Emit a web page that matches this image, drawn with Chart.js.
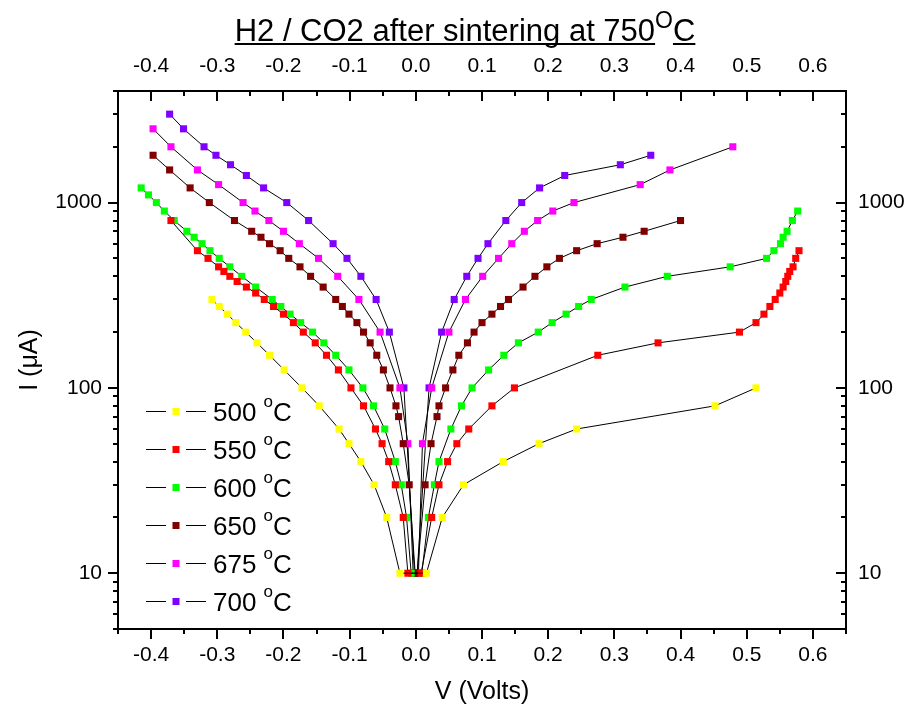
<!DOCTYPE html>
<html>
<head>
<meta charset="utf-8">
<script src="https://cdn.jsdelivr.net/npm/chart.js@4.4.0/dist/chart.umd.min.js"></script>
<style>
    html, body { margin: 0; padding: 0; background: #ffffff; }
    #wrap { width: 907px; height: 709px; }
</style>
</head>
<body>
<div id="wrap"><canvas id="ivChart" width="907" height="709"></canvas></div>
<script>
// ---- data: voltage (V) and current (uA) per sintering temperature ----
const v500 = [-0.308, -0.297, -0.285, -0.272, -0.257, -0.240, -0.221, -0.199, -0.172, -0.146, -0.116, -0.101, -0.083, -0.063, -0.044, -0.024,
    0.016, 0.040, 0.072, 0.132, 0.186, 0.243, 0.452, 0.514];
const i500 = [300, 275, 250, 225, 200, 175, 150, 125, 100, 80, 60, 50, 40, 30, 20, 10,
    10, 20, 30, 40, 50, 60, 80, 100];

const v550 = [-0.370, -0.330, -0.314, -0.298, -0.290, -0.281, -0.270, -0.256, -0.242, -0.229, -0.215, -0.200, -0.185, -0.170, -0.152, -0.135, -0.117, -0.098, -0.079, -0.061, -0.051, -0.041, -0.031, -0.019, -0.012,
    0.008, 0.024, 0.035, 0.048, 0.062, 0.080, 0.115, 0.149, 0.275, 0.366, 0.489, 0.514, 0.526, 0.535, 0.543, 0.550, 0.555, 0.559, 0.562, 0.565, 0.570, 0.574, 0.579];
const i550 = [800, 550, 500, 450, 425, 400, 375, 350, 325, 300, 275, 250, 225, 200, 175, 150, 125, 100, 80, 60, 50, 40, 30, 20, 10,
    10, 20, 30, 40, 50, 60, 80, 100, 150, 175, 200, 225, 250, 275, 300, 325, 350, 375, 400, 425, 450, 500, 550];

const v600 = [-0.415, -0.404, -0.392, -0.380, -0.365, -0.346, -0.335, -0.323, -0.311, -0.297, -0.281, -0.263, -0.242, -0.217, -0.204, -0.190, -0.174, -0.156, -0.139, -0.121, -0.101, -0.080, -0.064, -0.047, -0.031, -0.022, -0.014, -0.007,
    0.009, 0.019, 0.028, 0.035, 0.053, 0.069, 0.085, 0.110, 0.133, 0.155, 0.185, 0.206, 0.227, 0.246, 0.265, 0.316, 0.380, 0.475, 0.530, 0.541, 0.551, 0.555, 0.561, 0.569, 0.577];
const i600 = [1200, 1100, 1000, 900, 800, 700, 650, 600, 550, 500, 450, 400, 350, 300, 275, 250, 225, 200, 175, 150, 125, 100, 80, 60, 40, 30, 20, 10,
    10, 20, 30, 40, 60, 80, 100, 125, 150, 175, 200, 225, 250, 275, 300, 350, 400, 450, 500, 550, 600, 650, 700, 800, 900];

const v650 = [-0.397, -0.372, -0.341, -0.312, -0.274, -0.248, -0.234, -0.221, -0.205, -0.192, -0.175, -0.159, -0.140, -0.121, -0.111, -0.101, -0.089, -0.079, -0.069, -0.059, -0.049, -0.039, -0.030, -0.026, -0.019, -0.010, -0.001,
    0.002, 0.014, 0.023, 0.032, 0.035, 0.045, 0.056, 0.065, 0.078, 0.088, 0.100, 0.115, 0.128, 0.140, 0.162, 0.180, 0.198, 0.217, 0.243, 0.274, 0.313, 0.345, 0.400];
const i650 = [1800, 1500, 1200, 1000, 800, 700, 650, 600, 550, 500, 450, 400, 350, 300, 275, 250, 225, 200, 175, 150, 125, 100, 80, 70, 50, 30, 10,
    10, 30, 50, 70, 80, 100, 125, 150, 175, 200, 225, 250, 275, 300, 350, 400, 450, 500, 550, 600, 650, 700, 800];

const v675 = [-0.397, -0.370, -0.330, -0.298, -0.261, -0.243, -0.222, -0.200, -0.176, -0.147, -0.118, -0.086, -0.054, -0.024, -0.012, -0.004,
    0.004, 0.010, 0.024, 0.050, 0.075, 0.101, 0.125, 0.145, 0.164, 0.184, 0.207, 0.239, 0.339, 0.384, 0.479];
const i675 = [2500, 2000, 1500, 1250, 1000, 900, 800, 700, 600, 500, 400, 300, 200, 100, 50, 10,
    10, 50, 100, 200, 300, 400, 500, 600, 700, 800, 900, 1000, 1250, 1500, 2000];

const v700 = [-0.372, -0.351, -0.320, -0.302, -0.280, -0.256, -0.230, -0.195, -0.162, -0.125, -0.104, -0.083, -0.060, -0.040, -0.018, -0.002,
    0.002, 0.020, 0.039, 0.058, 0.077, 0.094, 0.109, 0.136, 0.160, 0.187, 0.225, 0.309, 0.355];
const i700 = [3000, 2500, 2000, 1800, 1600, 1400, 1200, 1000, 800, 600, 500, 400, 300, 200, 100, 10,
    10, 100, 200, 300, 400, 500, 600, 800, 1000, 1200, 1400, 1600, 1800];

const seriesTemps = ["500", "550", "600", "650", "675", "700"];
const seriesColors = ["#ffff00", "#ff0000", "#00ff00", "#800000", "#ff00ff", "#8000ff"];
const seriesV = [v500, v550, v600, v650, v675, v700];
const seriesI = [i500, i550, i600, i650, i675, i700];

const xTicks = [-0.4, -0.3, -0.2, -0.1, 0.0, 0.1, 0.2, 0.3, 0.4, 0.5, 0.6];
const yTicks = [10, 100, 1000];
const xRange = [-0.45, 0.65];
const yRange = [5, 4000];

const FONT = '"Liberation Sans", Arial, sans-serif';

// ---- frame, ticks, title, axis titles, legend ----
const decorPlugin = {
    id: "decor",
    afterDraw(chart) {
        const ctx = chart.ctx;
        const a = chart.chartArea;
        const xs = chart.scales.x;
        const ys = chart.scales.y;
        ctx.save();

        // box
        ctx.strokeStyle = "#000";
        ctx.lineWidth = 2;
        ctx.strokeRect(a.left, a.top, a.right - a.left, a.bottom - a.top);

        // x ticks (major every 0.1, minor in between)
        ctx.beginPath();
        for (let k = -9; k <= 13; k++) {
            const px = Math.round(xs.getPixelForValue(k * 0.05));
            const len = k % 2 === 0 ? 10 : 5;
            ctx.moveTo(px, a.bottom); ctx.lineTo(px, a.bottom + len);   // outside bottom
            ctx.moveTo(px, a.top); ctx.lineTo(px, a.top + len);         // inside top
        }
        // y ticks (log, major per decade)
        for (let d = 0; d <= 3; d++) {
            for (let m = 1; m <= 9; m++) {
                const val = m * Math.pow(10, d);
                if (val < yRange[0] || val > yRange[1]) continue;
                const py = Math.round(ys.getPixelForValue(val));
                const len = m === 1 ? 10 : 5;
                ctx.moveTo(a.left, py); ctx.lineTo(a.left - len, py);    // outside left
                ctx.moveTo(a.right, py); ctx.lineTo(a.right - len, py);  // inside right
            }
        }
        ctx.stroke();

        // title with underline and superscript
        ctx.fillStyle = "#000";
        ctx.textBaseline = "alphabetic";
        ctx.textAlign = "left";
        const main = "H2 / CO2 after sintering at 750";
        ctx.font = "31px " + FONT;
        const wMain = ctx.measureText(main).width;
        const wC = ctx.measureText("C").width;
        ctx.font = "23px " + FONT;
        const wSup = ctx.measureText("O").width;
        const tx = 465 - (wMain + wSup + wC) / 2;
        const tb = 41;
        ctx.font = "31px " + FONT;
        ctx.fillText(main, tx, tb);
        ctx.fillText("C", tx + wMain + wSup, tb);
        ctx.font = "23px " + FONT;
        ctx.fillText("O", tx + wMain, tb - 13);
        ctx.fillRect(tx, tb + 2, wMain, 2);
        ctx.fillRect(tx + wMain + wSup, tb + 2, wC, 2);

        // axis titles
        ctx.font = "25px " + FONT;
        ctx.textAlign = "center";
        ctx.textBaseline = "middle";
        ctx.fillText("V (Volts)", (a.left + a.right) / 2, 692);
        ctx.save();
        ctx.translate(30, (a.top + a.bottom) / 2);
        ctx.rotate(-Math.PI / 2);
        ctx.fillText("I (\u03bcA)", 0, 0);
        ctx.restore();

        // legend
        ctx.textAlign = "left";
        ctx.textBaseline = "alphabetic";
        seriesTemps.forEach((t, k) => {
            const cy = a.top + 320 + k * 38;
            ctx.strokeStyle = "#000";
            ctx.lineWidth = 1;
            ctx.beginPath();
            ctx.moveTo(146, cy + 0.5); ctx.lineTo(166, cy + 0.5);
            ctx.moveTo(186, cy + 0.5); ctx.lineTo(206, cy + 0.5);
            ctx.stroke();
            ctx.fillStyle = seriesColors[k];
            ctx.fillRect(172.5, cy - 3, 7, 7);
            ctx.fillStyle = "#000";
            ctx.font = "26px " + FONT;
            const wNum = ctx.measureText(t + " ").width;
            ctx.fillText(t + " ", 213, cy + 10);
            ctx.font = "17px " + FONT;
            const wo = ctx.measureText("o").width;
            ctx.fillText("o", 213 + wNum, cy - 4);
            ctx.font = "26px " + FONT;
            ctx.fillText("C", 213 + wNum + wo, cy + 10);
        });

        ctx.restore();
    },
};

function buildDatasets() {
    return seriesTemps.map((t, k) => ({
        label: t + " \u00b0C",
        data: seriesV[k].map((v, j) => ({ x: v, y: seriesI[k][j] })),
        showLine: true,
        borderColor: "#000000",
        borderWidth: 1,
        tension: 0,
        pointStyle: "rect",
        pointRadius: 5,
        pointBorderWidth: 0,
        pointBackgroundColor: seriesColors[k],
        pointBorderColor: seriesColors[k],
        xAxisID: "x",
        yAxisID: "y",
    }));
}

const tickFont = { family: FONT, size: 21 };

new Chart(document.getElementById("ivChart").getContext("2d"), {
    type: "scatter",
    data: { datasets: buildDatasets() },
    options: {
        responsive: false,
        animation: false,
        events: [],
        layout: { padding: 0, autoPadding: false },
        plugins: {
            legend: { display: false },
            tooltip: { enabled: false },
            title: { display: false },
        },
        scales: {
            x: {
                type: "linear", position: "bottom", min: xRange[0], max: xRange[1],
                grid: { display: false, drawTicks: false }, border: { display: false },
                ticks: { font: tickFont, color: "#000", padding: 14, maxRotation: 0, autoSkip: false,
                    callback: (v) => Number(v).toFixed(1) },
                afterBuildTicks: (s) => { s.ticks = xTicks.map((v) => ({ value: v })); },
                afterFit: (s) => { s.height = 80; },
            },
            x2: {
                type: "linear", position: "top", min: xRange[0], max: xRange[1],
                grid: { display: false, drawTicks: false }, border: { display: false },
                ticks: { font: tickFont, color: "#000", padding: 12, maxRotation: 0, autoSkip: false,
                    callback: (v) => Number(v).toFixed(1) },
                afterBuildTicks: (s) => { s.ticks = xTicks.map((v) => ({ value: v })); },
                afterFit: (s) => { s.height = 91; },
            },
            y: {
                type: "logarithmic", position: "left", min: yRange[0], max: yRange[1],
                grid: { display: false, drawTicks: false }, border: { display: false },
                ticks: { font: tickFont, color: "#000", padding: 16, autoSkip: false,
                    callback: (v) => String(v) },
                afterBuildTicks: (s) => { s.ticks = yTicks.map((v) => ({ value: v })); },
                afterFit: (s) => { s.width = 118; },
            },
            y2: {
                type: "logarithmic", position: "right", min: yRange[0], max: yRange[1],
                grid: { display: false, drawTicks: false }, border: { display: false },
                ticks: { font: tickFont, color: "#000", padding: 12, autoSkip: false,
                    callback: (v) => String(v) },
                afterBuildTicks: (s) => { s.ticks = yTicks.map((v) => ({ value: v })); },
                afterFit: (s) => { s.width = 61; },
            },
        },
    },
    plugins: [decorPlugin],
});
</script>
</body>
</html>
